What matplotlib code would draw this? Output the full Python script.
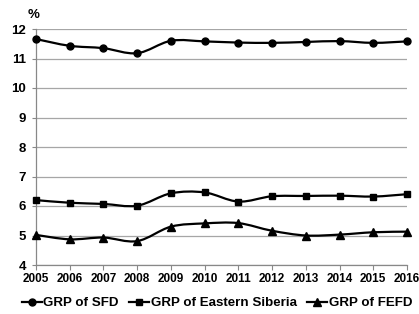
import matplotlib
matplotlib.use("Agg")
import matplotlib.pyplot as plt
from matplotlib.path import Path
from matplotlib.patches import PathPatch
from matplotlib.lines import Line2D

plt.rcParams["font.family"] = ["Liberation Sans", "DejaVu Sans"]
plt.rcParams["font.weight"] = "bold"

years = list(range(2005, 2017))
grp_sfd = [11.66, 11.43, 11.35, 11.18, 11.60, 11.58, 11.54, 11.53, 11.56, 11.59, 11.53, 11.58]
grp_es = [6.20, 6.11, 6.07, 6.01, 6.43, 6.46, 6.15, 6.33, 6.34, 6.35, 6.32, 6.40]
grp_fefd = [5.02, 4.87, 4.93, 4.81, 5.30, 5.41, 5.42, 5.16, 5.00, 5.03, 5.11, 5.13]

series = [
    ("GRP of SFD", grp_sfd, "o", 5.0),
    ("GRP of Eastern Siberia", grp_es, "s", 5.0),
    ("GRP of FEFD", grp_fefd, "^", 5.5),
]


def smooth_path(xs, ys):
    """Excel-like smoothed line as cubic Bezier segments through the points."""
    pts = list(zip(xs, ys))
    n = len(pts)
    verts = [pts[0]]
    codes = [Path.MOVETO]
    for i in range(n - 1):
        p0 = pts[i - 1] if i > 0 else pts[i]
        p1 = pts[i]
        p2 = pts[i + 1]
        p3 = pts[i + 2] if i + 2 < n else pts[i + 1]
        c1 = (p1[0] + (p2[0] - p0[0]) / 6, p1[1] + (p2[1] - p0[1]) / 6)
        c2 = (p2[0] - (p3[0] - p1[0]) / 6, p2[1] - (p3[1] - p1[1]) / 6)
        verts += [c1, c2, p2]
        codes += [Path.CURVE4] * 3
    return Path(verts, codes)


fig = plt.figure(figsize=(4.19, 3.14), dpi=100)
ax = fig.add_axes([36 / 419, 49 / 314, 371 / 419, 236 / 314])

for label, vals, marker, ms in series:
    ax.add_patch(PathPatch(smooth_path(years, vals), facecolor="none",
                           edgecolor="black", linewidth=1.6, clip_on=False, zorder=3))
    ax.plot(years, vals, linestyle="none", marker=marker, markersize=ms,
            color="black", clip_on=False, zorder=4)

ax.set_xlim(2005, 2016)
ax.set_ylim(4, 12)
ax.set_xticks(years)
ax.set_yticks(range(4, 13))
ax.tick_params(axis="x", labelsize=8.5, length=3.5, width=0.8, color="#888888", pad=2.5)
ax.tick_params(axis="y", labelsize=9.5, length=3, width=0.8, color="#888888", pad=4)
ax.grid(axis="y", color="#a6a6a6", linewidth=0.9)
ax.set_axisbelow(True)
for side in ["top", "right"]:
    ax.spines[side].set_visible(False)
for side in ["left", "bottom"]:
    ax.spines[side].set_color("#888888")
    ax.spines[side].set_linewidth(0.9)

fig.text(34 / 419, 1 - 14.5 / 314, "%", fontsize=9.5, fontweight="bold",
         ha="center", va="center")

handles = [Line2D([], [], color="black", linewidth=1.6, marker=m, markersize=ms)
           for _, _, m, ms in series]
fig.legend(handles, [s[0] for s in series], loc="center", ncol=3,
           bbox_to_anchor=(217 / 419, 1 - 303 / 314), frameon=False, fontsize=9.6,
           handlelength=1.5, handletextpad=0.1, columnspacing=0.8,
           borderpad=0, borderaxespad=0)

fig.savefig("out.png", dpi=100)
